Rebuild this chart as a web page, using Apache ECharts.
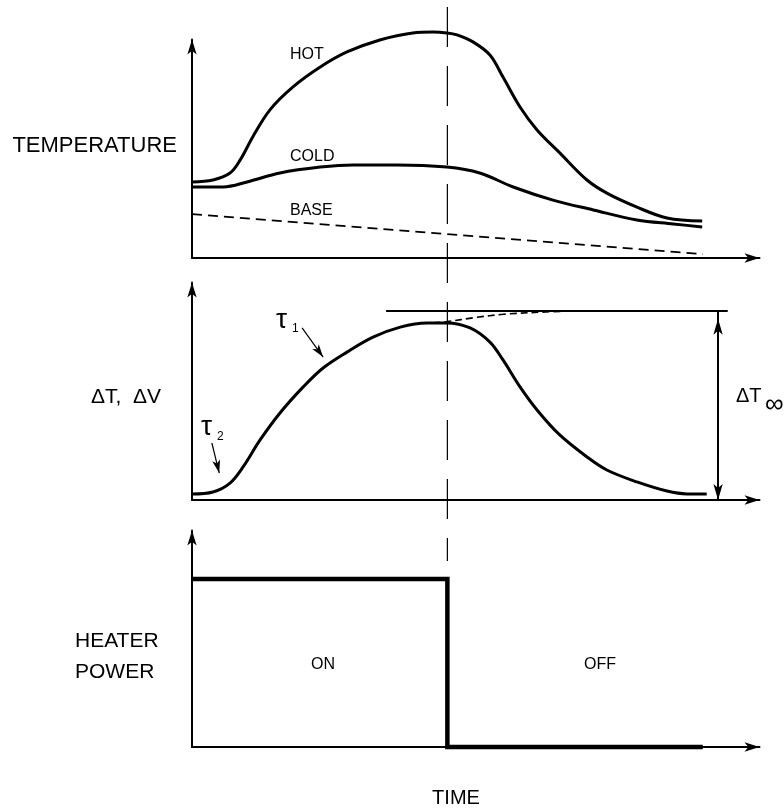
<!DOCTYPE html>
<html>
<head>
<meta charset="utf-8">
<script src="https://cdn.jsdelivr.net/npm/echarts@6/dist/echarts.min.js"></script>
<style>
html,body{margin:0;padding:0;background:#fff;}
#chart{width:784px;height:811px;}
</style>
</head>
<body>
<div id="chart"></div>
<script>
// ---- data (time in arbitrary units 0..100, values in arbitrary units 0..100) ----
const hotT  = [0, 3.7, 6.7, 8.5, 10.7, 13.7, 17.8, 22.6, 27.3, 33.1, 38.9, 42.5, 44.9, 46.7, 49.5, 52.5, 54.8, 57.8, 60.8, 64.8, 69.6, 73.1, 78.4, 83.7, 89.9];
const hotV  = [34.8, 35.7, 38.9, 44.9, 55.4, 67.7, 78.3, 87.4, 94.3, 99.8, 103.0, 103.4, 103.0, 102.1, 98.9, 92.9, 82.8, 69.1, 58.6, 48.1, 35.7, 29.7, 23.3, 18.3, 16.9];
const coldT = [0, 5.5, 9.7, 15.5, 22.6, 28.4, 36.1, 44.9, 50.7, 56.6, 63.6, 70.7, 78.4, 84.8, 89.9];
const coldV = [32.5, 32.5, 34.8, 38.9, 41.6, 42.6, 42.6, 41.6, 38.9, 32.5, 26.5, 22.0, 17.4, 15.6, 14.2];
const baseT = [0, 90];
const baseV = [20.1, 1.8];

const deltaT = [0, 3.7, 6.7, 9.0, 12.0, 15.5, 19.6, 23.1, 27.3, 31.9, 36.7, 41.4, 44.9, 49.0, 52.5, 54.8, 57.8, 60.8, 64.8, 69.6, 73.1, 78.4, 83.7, 87.2, 90.7];
const deltaV = [2.8, 3.7, 7.8, 15.2, 27.6, 40.0, 52.0, 60.7, 68.0, 74.9, 79.5, 81.4, 81.4, 79.1, 72.6, 64.4, 52.0, 41.4, 29.9, 19.8, 13.8, 8.3, 4.1, 2.8, 2.8];
const extT = [42.5, 44.9, 49.9, 54.9, 63.7, 69.0];
const extV = [81.5, 82.0, 83.9, 85.4, 86.6, 87.0];
const deltaInf = 87.0;          // asymptotic ΔT∞ level
const asymT = [34.2, 94.4];     // extent of asymptote line
const deltaInfT = 92.7;         // time where ΔT∞ is dimensioned
const tau1Arrow = [[19.4, 79.1], [23.1, 65.7]];
const tau2Arrow = [[3.5, 26.2], [4.8, 12.4]];

const powerT = [0, 45, 45, 90];
const powerV = [77.6, 77.6, 0, 0];
const switchT = 45;             // heater switched off

const zip = (a, b) => a.map((v, i) => [v, b[i]]);

const chart = echarts.init(document.getElementById('chart'), null, {renderer: 'canvas'});
const FONT = '"Liberation Sans", Arial, sans-serif';
const black = '#000';

function axis(i) {
  return {
    type: 'value', gridIndex: i, min: 0, max: 100,
    axisLine: {show: true, onZero: false, symbol: ['none', 'arrow'], symbolSize: [7, 15], lineStyle: {color: black, width: 2}},
    axisTick: {show: false}, axisLabel: {show: false}, splitLine: {show: false}
  };
}
const thick = {color: black, width: 3};
const noMarkLabel = {show: false};

chart.setOption({
  animation: false,
  backgroundColor: '#fff',
  grid: [
    {left: 192, top: 39.5, width: 567.5, height: 218.5},
    {left: 192, top: 282.5, width: 567.5, height: 217.5},
    {left: 192, top: 530.5, width: 567.5, height: 216.5}
  ],
  xAxis: [axis(0), axis(1), axis(2)],
  yAxis: [axis(0), axis(1), axis(2)],
  series: [
    {name: 'HOT', type: 'line', xAxisIndex: 0, yAxisIndex: 0, data: zip(hotT, hotV), smooth: 0.35,
     showSymbol: false, symbol: 'none', clip: false, lineStyle: thick, silent: true},
    {name: 'COLD', type: 'line', xAxisIndex: 0, yAxisIndex: 0, data: zip(coldT, coldV), smooth: 0.35,
     showSymbol: false, symbol: 'none', clip: false, lineStyle: thick, silent: true},
    {name: 'BASE', type: 'line', xAxisIndex: 0, yAxisIndex: 0, data: zip(baseT, baseV),
     showSymbol: false, symbol: 'none', clip: false, lineStyle: {color: black, width: 1.8, type: [10, 6]}, silent: true},
    {name: 'dT', type: 'line', xAxisIndex: 1, yAxisIndex: 1, data: zip(deltaT, deltaV), smooth: 0.35,
     showSymbol: false, symbol: 'none', clip: false, lineStyle: thick, silent: true,
     markLine: {
       silent: true, animation: false, label: noMarkLabel,
       data: [
         [{coord: [asymT[0], deltaInf], symbol: 'none'}, {coord: [asymT[1], deltaInf], symbol: 'none'}],
         [{coord: [deltaInfT, deltaInf]}, {coord: [deltaInfT, 0]}]
       ],
       symbol: ['arrow', 'arrow'], symbolSize: [7, 16], symbolOffset: [[0, '50%'], [0, 0]],
       lineStyle: {color: black, width: 2, type: 'solid'}
     }},
    {name: 'ext', type: 'line', xAxisIndex: 1, yAxisIndex: 1, data: zip(extT, extV), smooth: 0.35,
     showSymbol: false, symbol: 'none', clip: false, lineStyle: {color: black, width: 1.6, type: [7, 4]}, silent: true,
     markLine: {
       silent: true, animation: false, label: noMarkLabel,
       symbol: ['none', 'arrow'], symbolSize: [6, 13], symbolOffset: [0, 0],
       lineStyle: {color: black, width: 1.2, type: 'solid'},
       data: [
         [{coord: tau1Arrow[0]}, {coord: tau1Arrow[1]}],
         [{coord: tau2Arrow[0]}, {coord: tau2Arrow[1]}]
       ]
     }},
    {name: 'POWER', type: 'line', xAxisIndex: 2, yAxisIndex: 2, data: zip(powerT, powerV),
     showSymbol: false, symbol: 'none', clip: false, lineStyle: {color: black, width: 4.5, join: 'miter', cap: 'butt'}, silent: true}
  ]
});

const xs = chart.convertToPixel({gridIndex: 0}, [switchT, 0])[0];

function txt(text, x, y, size, align) {
  return {type: 'text', x: x, y: y, silent: true, z: 100,
    style: {text: text, font: size + 'px ' + FONT, fill: black,
      align: align || 'left', verticalAlign: 'middle', textAlign: align || 'left', textVerticalAlign: 'middle'}};
}

chart.setOption({
  graphic: [
    {type: 'line', silent: true, z: 50, shape: {x1: xs, y1: 7, x2: xs, y2: 561},
     style: {stroke: black, lineWidth: 1.2, lineDash: [40, 19]}},
    txt('TEMPERATURE', 177, 146, 22, 'right'),
    txt('ΔT,  ΔV', 161, 397, 21, 'right'),
    txt('HEATER', 75, 641, 21, 'left'),
    txt('POWER', 75, 672, 21, 'left'),
    txt('TIME', 456, 798, 20, 'center'),
    txt('HOT', 290, 55, 16, 'left'),
    txt('COLD', 290, 157, 16, 'left'),
    txt('BASE', 290, 211, 16, 'left'),
    txt('ON', 323, 665, 16, 'center'),
    txt('OFF', 600, 665, 16, 'center'),
    txt('ΔT', 736, 396, 20, 'left'),
    txt('∞', 765, 405, 26, 'left'),
    txt('τ', 276, 320, 28, 'left'),
    txt('1', 292, 329, 12, 'left'),
    txt('τ', 201, 427, 28, 'left'),
    txt('2', 217, 437, 12, 'left')
  ]
});
</script>
</body>
</html>
